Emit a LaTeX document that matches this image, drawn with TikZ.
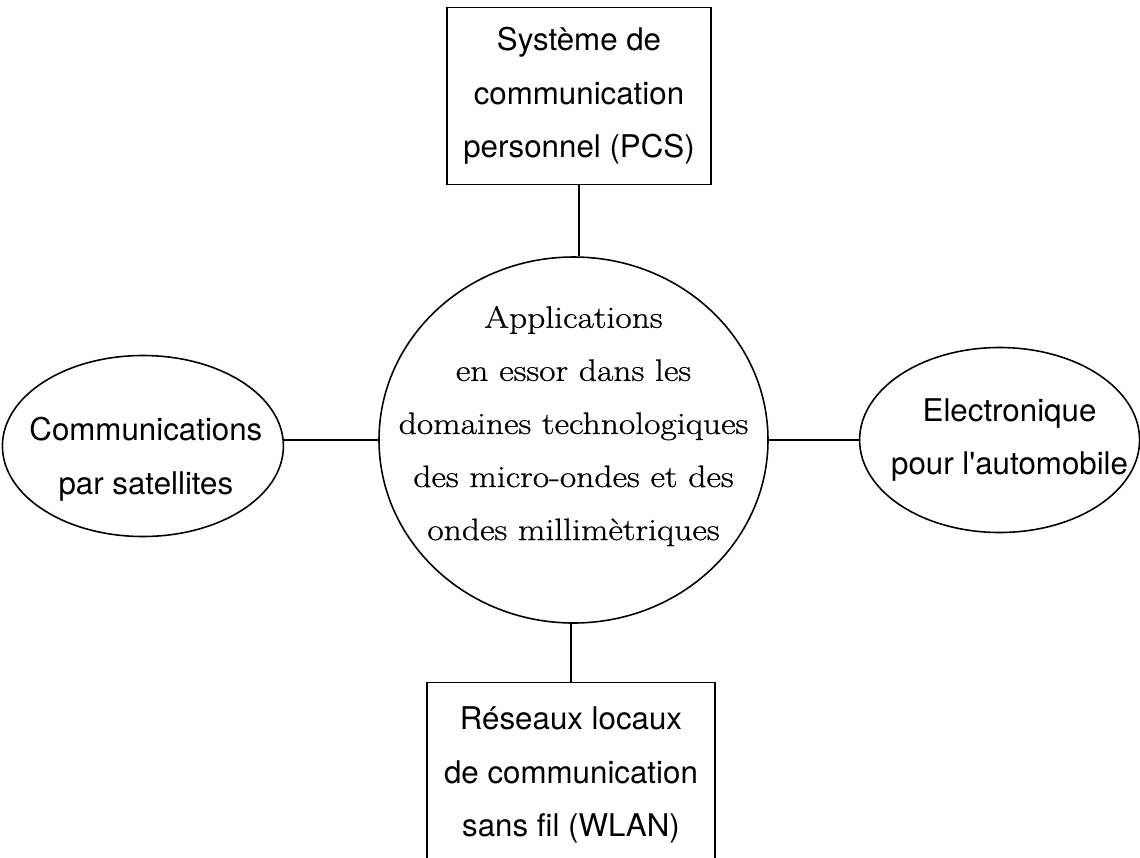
\documentclass[tikz,border=0pt]{standalone}
\usepackage{fontspec}
\usepackage{tikz}
\usetikzlibrary{positioning,shapes.geometric}
\newfontfamily\heros{TeX Gyre Heros}
\newfontfamily\hubfont[FakeStretch=1.15, FakeBold=0.8]{Latin Modern Roman}
\tikzset{
  link/.style={line width=0.8pt, draw=black},
  box/.style={
    draw=black,
    line width=0.9pt,
    rectangle,
    align=center,
    inner sep=0pt,
    font=\heros\fontsize{17.8}{30.5}\selectfont
  },
  oval/.style={draw=black, line width=0.9pt, ellipse, inner sep=0pt},
  ovaltext/.style={align=center, inner sep=0pt, font=\heros\fontsize{17.8}{30.5}\selectfont},
  hubtext/.style={align=center, inner sep=0pt, font=\hubfont\fontsize{17.6}{30.2}\selectfont}
}
\begin{document}
\begin{tikzpicture}
  \useasboundingbox (0,0) rectangle (22.8,-17.14);
  \node[oval, minimum width=7.78cm, minimum height=7.32cm] (hub) at (11.47,-8.8) {};
  \node[hubtext] (hubtxt) at ([yshift=0.28cm]hub.center)
    {Applications\\en essor dans les\\domaines technologiques\\des micro-ondes et des\\ondes millimètriques};

  \node[box, above=1.42cm of hub, xshift=0.11cm, minimum width=5.28cm, minimum height=3.54cm] (pcs)
    {Système de\\communication\\personnel (PCS)};
  \node[box, below=1.16cm of hub, xshift=-0.05cm, minimum width=5.76cm, minimum height=3.7cm] (wlan)
    {Réseaux locaux\\de communication\\sans fil (WLAN)};

  \node[oval, left=1.88cm of hub, yshift=-0.12cm, minimum width=5.62cm, minimum height=3.62cm] (sat) {};
  \node[ovaltext] (sattxt) at ([xshift=0.06cm, yshift=-0.27cm]sat.center)
    {Communications\\par satellites};
  \node[oval, right=1.8cm of hub, minimum width=5.6cm, minimum height=3.7cm] (car) {};
  \node[ovaltext] (cartxt) at ([xshift=0.2cm]car.center)
    {Electronique\\pour l\textquotesingle automobile};

  \draw[link] (pcs.south) -- (pcs.south |- hub.north);
  \draw[link] (wlan.north) -- (wlan.north |- hub.south);
  \draw[link] (hub.west) -- (hub.west -| sat.east);
  \draw[link] (hub.east) -- (hub.east -| car.west);
\end{tikzpicture}
\end{document}
